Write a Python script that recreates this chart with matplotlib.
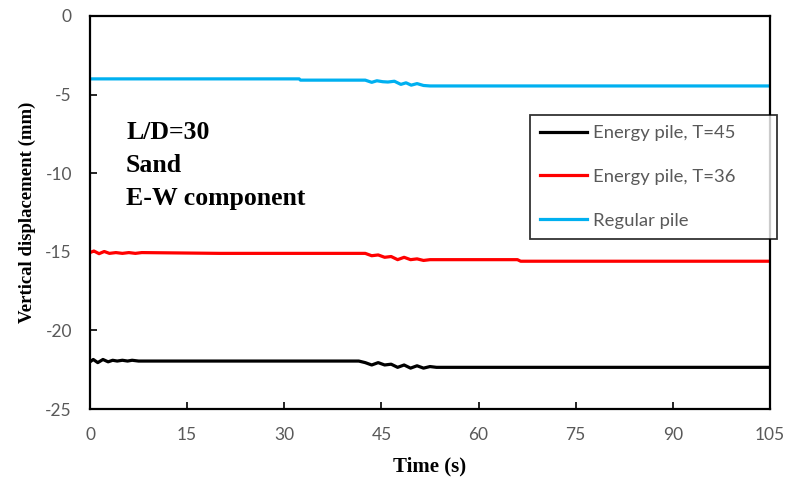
import matplotlib
matplotlib.use("Agg")
import matplotlib.pyplot as plt

plt.rcParams["axes.unicode_minus"] = False

# Data
t_black = [0, 0.5, 1.2, 2.0, 2.8, 3.5, 4.2, 5.0, 5.8, 6.5, 7.5, 20, 41.5, 42.5, 43.5,
           44.5, 45.5, 46.5, 47.5, 48.5, 49.5, 50.5, 51.5, 52.5, 53.5, 54.8, 70, 105]
y_black = [-22.0, -21.85, -22.05, -21.85, -22.0, -21.9, -21.95, -21.9, -21.95, -21.9,
           -21.95, -21.95, -21.95, -22.05, -22.2, -22.05, -22.2, -22.15, -22.35, -22.2,
           -22.4, -22.25, -22.4, -22.3, -22.35, -22.35, -22.35, -22.35]

t_red = [0, 0.6, 1.4, 2.2, 3.0, 4.0, 5.0, 6.0, 7.0, 8.0, 20, 42.5, 43.5, 44.5, 45.5,
         46.5, 47.5, 48.5, 49.5, 50.5, 51.5, 52.5, 66, 66.5, 105]
y_red = [-15.05, -14.95, -15.12, -14.98, -15.1, -15.05, -15.1, -15.05, -15.1, -15.05,
         -15.1, -15.1, -15.25, -15.2, -15.35, -15.3, -15.5, -15.35, -15.5, -15.45,
         -15.55, -15.5, -15.5, -15.6, -15.6]

t_blue = [0, 32.3, 32.5, 42.5, 43.5, 44.3, 45.2, 46.0, 47.0, 48.0, 48.8, 49.6, 50.5,
          51.5, 52.5, 105]
y_blue = [-4.0, -4.0, -4.08, -4.08, -4.22, -4.12, -4.18, -4.2, -4.15, -4.35, -4.25,
          -4.4, -4.3, -4.42, -4.45, -4.45]

series_labels = ["Energy pile, T=45", "Energy pile, T=36", "Regular pile"]
series_colors = ["#000000", "#ff0000", "#00b0f0"]

x_ticks = [0, 15, 30, 45, 60, 75, 90, 105]
y_ticks = [0, -5, -10, -15, -20, -25]

tick_font = ["Lato", "DejaVu Sans"]

fig = plt.figure(figsize=(7.87, 4.88), dpi=100)
ax = fig.add_axes([90 / 787, 1 - 409 / 488, 680 / 787, 393 / 488])

ax.plot(t_black, y_black, color=series_colors[0], lw=2.3, label=series_labels[0])
ax.plot(t_red, y_red, color=series_colors[1], lw=2.3, label=series_labels[1])
ax.plot(t_blue, y_blue, color=series_colors[2], lw=2.3, label=series_labels[2])

ax.set_xlim(0, 105)
ax.set_ylim(-25, 0)
ax.set_xticks(x_ticks)
ax.set_yticks(y_ticks)
ax.tick_params(direction="in", length=5, width=1.2, pad=13, colors="#000000",
               labelcolor="#595959", labelsize=12.5)
for lab in ax.get_xticklabels() + ax.get_yticklabels():
    lab.set_family(tick_font)
for s in ax.spines.values():
    s.set_linewidth(1.6)

ax.set_xlabel("Time (s)", family="Liberation Serif", fontweight="bold", fontsize=15,
              labelpad=10)
ax.set_ylabel("Vertical displacement (mm)", family="Liberation Serif",
              fontweight="bold", fontsize=13.5)
ax.yaxis.set_label_coords(-0.08, 0.5)

ax.text(0.053, 0.733, "L/D=30\nSand\nE-W component", transform=ax.transAxes,
        family="Liberation Serif", fontweight="bold", fontsize=18.5, va="top",
        linespacing=1.55)

leg = ax.legend(loc="upper left", bbox_to_anchor=(0.647, 0.438, 0.363, 0.31),
                mode="expand", frameon=True, fancybox=False, edgecolor="#000000",
                handlelength=2.55, labelspacing=1.5, borderpad=0.55,
                handletextpad=0.3, borderaxespad=0,
                prop={"family": ["Lato", "DejaVu Sans"], "size": 13.3})
leg.get_frame().set_linewidth(1.3)
for txt in leg.get_texts():
    txt.set_color("#595959")

fig.savefig("out.png", dpi=100)
